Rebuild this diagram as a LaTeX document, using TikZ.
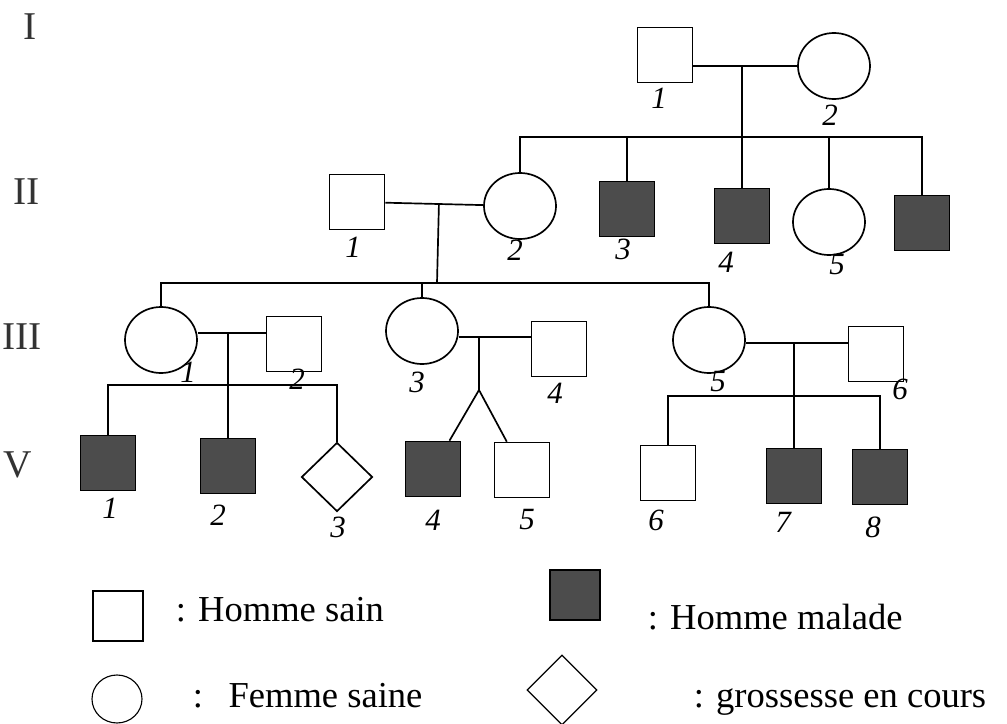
\documentclass[tikz,border=0pt]{standalone}
\usepackage{fontspec}
\setmainfont{Liberation Serif}
\usepackage{tikz}
\usetikzlibrary{shapes,positioning,calc}
\usepackage{xcolor}

\begin{document}
\begin{tikzpicture}[x=0.25mm, y=-0.25mm, line width=1.2pt,
        homme/.style={draw, rectangle, inner sep=0pt, minimum size=13.75mm},
        malade/.style={homme, fill=black!70},
        femme/.style={draw, ellipse, inner sep=0pt, minimum width=18mm, minimum height=16.5mm},
        grossesse/.style={draw, diamond, inner sep=0pt, minimum width=17.75mm, minimum height=17.25mm},
        num/.style={font=\fontsize{22}{24}\selectfont\itshape, inner sep=0pt},
        gen/.style={font=\fontsize{28}{30}\selectfont, text=black!80, inner sep=0pt},
        legende/.style={font=\fontsize{26}{30}\selectfont, anchor=base west, inner sep=0pt}]
    \useasboundingbox (0,0) rectangle (1007,724);

    % generation I
    \node[homme] (I1) at (665,55) {};
    \node[femme] (I2) at (834,66) {};
    % generation II
    \node[homme] (II1) at (357,202) {};
    \node[femme] (II2) at (520,206) {};
    \node[malade] (II3) at (627,209) {};
    \node[malade] (II4) at (742,216) {};
    \node[femme] (II5) at (829,222) {};
    \node[malade] (II6) at (922,223) {};
    % generation III
    \node[femme] (III1) at (161,340) {};
    \node[homme] (III2) at (294,344) {};
    \node[femme] (III3) at (422,331) {};
    \node[homme] (III4) at (559,349) {};
    \node[femme] (III5) at (709,340) {};
    \node[homme] (III6) at (876,354) {};
    % generation V
    \node[malade] (V1) at (108,463) {};
    \node[malade] (V2) at (228,466) {};
    \node[grossesse] (V3) at (337,477) {};
    \node[malade] (V4) at (433,469) {};
    \node[homme] (V5) at (522,470) {};
    \node[homme] (V6) at (668,473) {};
    \node[malade] (V7) at (794,476) {};
    \node[malade] (V8) at (880,477) {};

    \coordinate (sI) at (742,137);
    \draw (I1.east |- I2) -- (I2);
    \draw (sI |- I2) -- (II4);
    \draw (II2) |- (sI) -| (II6);
    \draw (II3) -- (II3 |- sI);
    \draw (II5) -- (II5 |- sI);

    \coordinate (sII) at (437,283);
    \draw (II1) -- (II2);
    \draw ($(II1)!(sII)!(II2)$) -- (sII);
    \draw (III1) |- (sII) -| (III5);
    \draw (III3) -- (III3 |- sII);

    \coordinate (cIII1) at (228,333);
    \coordinate (sIII1) at (228,385);
    \draw (III1.east |- cIII1) -- (III2.west |- cIII1);
    \draw (cIII1) -- (V2);
    \draw (V1) |- (sIII1) -| (V3);

    \coordinate (cIII3) at (479,337);
    \coordinate (fork) at (479,390);
    \draw (III3.east |- cIII3) -- (III4.west |- cIII3);
    \draw (cIII3) -- (fork);
    \draw (fork) -- (V4);
    \draw (fork) -- (V5);

    \coordinate (cIII5) at (794,343);
    \coordinate (sIII5) at (794,396);
    \draw (III5.east |- cIII5) -- (III6.west |- cIII5);
    \draw (cIII5) -- (V7);
    \draw (V6) |- (sIII5) -| (V8);

    \foreach \n/\t/\x/\y in {I1/1/659/98, I2/2/830/115,
            II1/1/353/247, II2/2/515/250, II3/3/623/249, II4/4/726/262, II5/5/837/265,
            III1/1/188/372, III2/2/297/379, III3/3/417/382, III4/4/555/393, III5/5/718/382, III6/6/900/389,
            V1/1/110/508, V2/2/218/515, V3/3/338/527, V4/4/433/520, V5/5/527/520, V6/6/656/520, V7/7/783/522, V8/8/873/527} {
        \node[num] (n\n) at (\x,\y) {\t};
    }

    \foreach \n/\t/\x/\y in {1/I/30/27, 2/II/27/192, 3/III/22/337, 5/V/18/465} {
        \node[gen] (g\n) at (\x,\y) {\t};
    }

    % legende
    \begin{scope}[line width=0.8pt]
        \node[homme, minimum size=12.5mm] (lh) at (118,616) {};
        \node[femme, minimum width=12.5mm, minimum height=12mm] (lf) at (117,699) {};
        \node[malade, minimum size=12.5mm] (lm) at (575,595) {};
        \node[grossesse, minimum width=17.5mm, minimum height=17.5mm] (lg) at (562,690) {};
    \end{scope}
    \node[legende] (th) at (175,621) {: Homme sain};
    \node[legende] (tf) at (192,707) {:\hspace{0.7em}Femme saine};
    \node[legende] (tm) at (647,629) {: Homme malade};
    \node[legende] (tg) at (693,707) {: grossesse en cours};
\end{tikzpicture}
\end{document}
